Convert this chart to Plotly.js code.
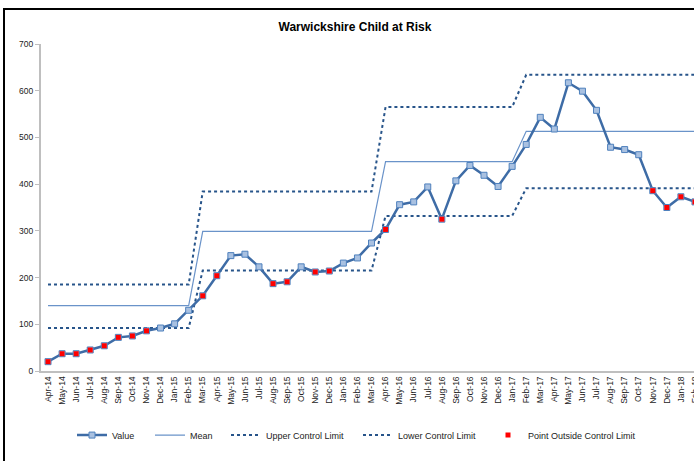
<!DOCTYPE html>
<html>
<head>
<meta charset="utf-8">
<script src="https://cdn.plot.ly/plotly-3.0.1.min.js"></script>
<style>
html,body{margin:0;padding:0;overflow:hidden;background:#fff;width:694px;height:461px;}
#frame{position:absolute;left:3px;top:8px;width:800px;height:600px;border:2px solid #000;box-sizing:border-box;pointer-events:none;z-index:5;}
#chart{position:absolute;left:0;top:0;}
</style>
</head>
<body>
<div id="frame"></div>
<div id="chart"></div>
<script>
var months = ["Apr-14","May-14","Jun-14","Jul-14","Aug-14","Sep-14","Oct-14","Nov-14","Dec-14","Jan-15","Feb-15",
  "Mar-15","Apr-15","May-15","Jun-15","Jul-15","Aug-15","Sep-15","Oct-15","Nov-15","Dec-15","Jan-16","Feb-16","Mar-16",
  "Apr-16","May-16","Jun-16","Jul-16","Aug-16","Sep-16","Oct-16","Nov-16","Dec-16","Jan-17",
  "Feb-17","Mar-17","Apr-17","May-17","Jun-17","Jul-17","Aug-17","Sep-17","Oct-17","Nov-17","Dec-17","Jan-18","Feb-18"];

var values = [20,37,37,45,54,72,75,86,92,101,130,
  161,204,247,250,223,187,191,223,212,214,231,242,274,
  303,356,362,394,325,407,440,419,395,438,
  485,543,518,617,599,558,479,474,463,386,350,373,362];

var meanLine = [140,140,140,140,140,140,140,140,140,140,140,
  299,299,299,299,299,299,299,299,299,299,299,299,299,
  448,448,448,448,448,448,448,448,448,448,
  513,513,513,513,513,513,513,513,513,513,513,513,513];

var upperLimit = [185,185,185,185,185,185,185,185,185,185,185,
  384,384,384,384,384,384,384,384,384,384,384,384,384,
  565,565,565,565,565,565,565,565,565,565,
  634,634,634,634,634,634,634,634,634,634,634,634,634];

var lowerLimit = [92,92,92,92,92,92,92,92,92,92,92,
  215,215,215,215,215,215,215,215,215,215,215,215,215,
  332,332,332,332,332,332,332,332,332,332,
  391,391,391,391,391,391,391,391,391,391,391,391,391];

var outsidePoints = [20,37,37,45,54,72,75,86,null,null,null,
  161,204,null,null,null,187,191,null,212,214,null,null,null,
  303,null,null,null,325,null,null,null,null,null,
  null,null,null,null,null,null,null,null,null,386,350,373,362];

var yTicks = [0,100,200,300,400,500,600,700];

var FONT = "Liberation Sans, Arial, sans-serif";
var limitColor = "#27548A";

var traces = [
  {x: months, y: values, name: "Value", type: "scatter", mode: "lines+markers",
   line: {color: "#3E6CA6", width: 2.5},
   marker: {symbol: "square", size: 6, color: "#A9C1E1", line: {color: "#4F81BD", width: 1}},
   legend: "legend", showlegend: true},
  {x: months, y: meanLine, name: "Mean", type: "scatter", mode: "lines",
   line: {color: "#6A93C9", width: 1.2}, legend: "legend2", showlegend: true},
  {x: months, y: upperLimit, name: "Upper Control Limit", type: "scatter", mode: "lines",
   line: {color: limitColor, width: 2, dash: "dot"}, legend: "legend3", showlegend: true},
  {x: months, y: lowerLimit, name: "Lower Control Limit", type: "scatter", mode: "lines",
   line: {color: limitColor, width: 2, dash: "dot"}, legend: "legend4", showlegend: true},
  {x: months, y: outsidePoints, name: "Point Outside Control Limit", type: "scatter", mode: "markers",
   marker: {symbol: "square", size: 5, color: "#FF0000"}, legend: "legend5", showlegend: true}
];

// drawing order: limits and mean below, value line above, red points on top
var order = [traces[1], traces[2], traces[3], traces[0], traces[4]];

function leg(px) {
  return {x: (px - 41) / 661, xanchor: "left", y: -0.196, yanchor: "middle",
    orientation: "h", bgcolor: "rgba(0,0,0,0)", borderwidth: 0, itemwidth: 30,
    font: {family: FONT, size: 9, color: "#222"}, visible: true};
}

var layout = {
  width: 712, height: 470,
  showlegend: true,
  margin: {l: 41, r: 10, t: 44, b: 99},
  paper_bgcolor: "rgba(0,0,0,0)", plot_bgcolor: "rgba(0,0,0,0)",
  title: {text: "<b>Warwickshire Child at Risk</b>", font: {family: FONT, size: 12, color: "#000"},
          x: 355 / 712, xanchor: "center", y: 1 - 27 / 470, yanchor: "middle"},
  xaxis: {type: "category", range: [-0.5, 46.5], tickangle: -90,
          tickfont: {family: FONT, size: 8.5, color: "#222"},
          showline: true, linecolor: "#BFBFBF", linewidth: 2, ticks: "", showgrid: false, zeroline: false,
          fixedrange: true},
  yaxis: {range: [0, 700], tickvals: yTicks, ticktext: yTicks.map(String),
          tickfont: {family: FONT, size: 8.5, color: "#222"},
          showline: true, linecolor: "#BFBFBF", linewidth: 2, ticks: "outside", ticklen: 4, tickcolor: "#BFBFBF",
          showgrid: false, zeroline: false, fixedrange: true},
  legend: leg(72),
  legend2: leg(150),
  legend3: leg(226),
  legend4: leg(358),
  legend5: leg(488)
};

Plotly.newPlot("chart", order, layout, {displayModeBar: false, staticPlot: true});
</script>
</body>
</html>
